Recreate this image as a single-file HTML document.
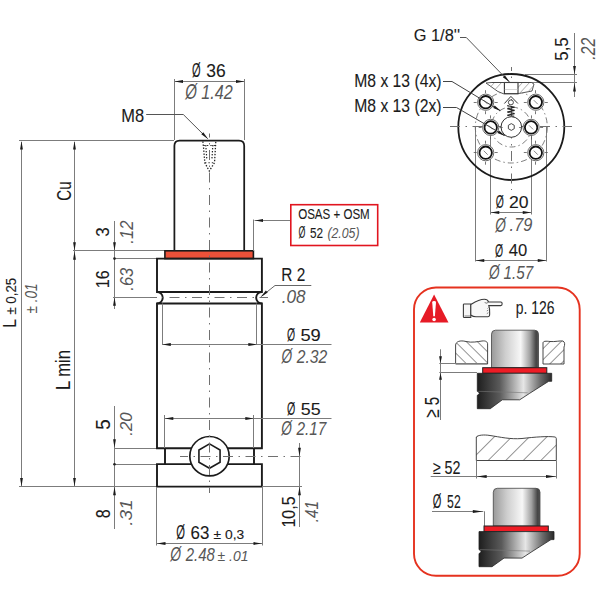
<!DOCTYPE html>
<html><head><meta charset="utf-8"><style>
html,body{margin:0;padding:0;background:#fff;width:600px;height:600px;overflow:hidden}
svg{display:block}
text{font-family:"Liberation Sans",sans-serif}
</style></head><body>
<svg width="600" height="600" viewBox="0 0 600 600">
<rect width="600" height="600" fill="#fff"/>
<line x1="19" y1="140.5" x2="174" y2="140.5" stroke="#7c7c7c" stroke-width="1" />
<line x1="21.5" y1="142" x2="21.5" y2="486" stroke="#7c7c7c" stroke-width="1" />
<polygon points="21.5,141 20.1,149.5 22.9,149.5" fill="#1b1b1b"/>
<polygon points="21.5,486.5 20.1,478 22.9,478" fill="#1b1b1b"/>
<line x1="74.5" y1="142" x2="74.5" y2="486" stroke="#7c7c7c" stroke-width="1" />
<polygon points="74.5,141 73.1,149.5 75.9,149.5" fill="#1b1b1b"/>
<polygon points="74.5,250.8 73.1,242.3 75.9,242.3" fill="#1b1b1b"/>
<polygon points="74.5,251.2 73.1,259.7 75.9,259.7" fill="#1b1b1b"/>
<polygon points="74.5,486.5 73.1,478 75.9,478" fill="#1b1b1b"/>
<line x1="73" y1="250.5" x2="165" y2="250.5" stroke="#7c7c7c" stroke-width="1" />
<line x1="19" y1="486.5" x2="157" y2="486.5" stroke="#7c7c7c" stroke-width="1" />
<line x1="114.5" y1="221" x2="114.5" y2="309" stroke="#7c7c7c" stroke-width="1" />
<polygon points="114.5,250.8 113.1,242.3 115.9,242.3" fill="#1b1b1b"/>
<polygon points="114.5,297.2 113.1,305.7 115.9,305.7" fill="#1b1b1b"/>
<line x1="114" y1="258.5" x2="157" y2="258.5" stroke="#7c7c7c" stroke-width="1" />
<line x1="113" y1="297.5" x2="152" y2="297.5" stroke="#7c7c7c" stroke-width="1" />
<line x1="114.5" y1="406" x2="114.5" y2="529" stroke="#7c7c7c" stroke-width="1" />
<polygon points="114.5,447.8 113.1,439.3 115.9,439.3" fill="#1b1b1b"/>
<polygon points="114.5,486.7 113.1,495.2 115.9,495.2" fill="#1b1b1b"/>
<line x1="114" y1="448.5" x2="157" y2="448.5" stroke="#7c7c7c" stroke-width="1" />
<line x1="114" y1="464.5" x2="157" y2="464.5" stroke="#7c7c7c" stroke-width="1" />
<circle cx="114.5" cy="258.6" r="1.3" fill="#222"/>
<circle cx="114.5" cy="464.2" r="1.3" fill="#222"/>
<line x1="174.5" y1="79" x2="174.5" y2="140" stroke="#7c7c7c" stroke-width="1" />
<line x1="244.5" y1="79" x2="244.5" y2="140" stroke="#7c7c7c" stroke-width="1" />
<line x1="174.5" y1="81.5" x2="244.5" y2="81.5" stroke="#7c7c7c" stroke-width="1" />
<polygon points="174.5,81.5 183,80.1 183,82.9" fill="#1b1b1b"/>
<polygon points="244.5,81.5 236,80.1 236,82.9" fill="#1b1b1b"/>
<path d="M146.2,114.5 H183.3 L207.5,138.5" stroke="#555" stroke-width="1" fill="none" />
<polygon points="208.3,139.2 201.3,134.18 203.28,132.2" fill="#1b1b1b"/>
<path d="M174.4,250.8 V145.7 Q174.4,140.5 179.6,140.5 H239 Q244.2,140.5 244.2,145.7 V250.8" stroke="#1b1b1b" stroke-width="1.75" fill="none" />
<path d="M202.9,141.5 L203.6,148 L204.2,155 L204.8,162.7 L209.25,171 L214.5,162.7 L215,155 L215.4,148 L215.8,141.5" stroke="#222" stroke-width="1.3" fill="none" stroke-dasharray="1.4 1.6"/>
<path d="M205.8,145 L206.3,152 L206.8,159 M212.8,145 L212.4,152 L211.9,159" stroke="#222" stroke-width="1.2" fill="none" stroke-dasharray="1.4 1.6"/>
<path d="M205,162.7 H214.5 M203.5,145.5 H215" stroke="#333" stroke-width="1.1" fill="none" stroke-dasharray="1.4 2"/>
<rect x="164.9" y="250.8" width="88.5" height="7.8" fill="#EC5139" stroke="#1b1b1b" stroke-width="1.6"/>
<path d="M157,258.6 H261.9 V292 A5.75,5.75 0 0 0 261.9,303.5 V448.2 H157 V303.5 A5.75,5.75 0 0 0 157,292 Z" stroke="#1b1b1b" stroke-width="1.9" fill="none" />
<path d="M157,292 H261.9 M157,303.5 H261.9" stroke="#1b1b1b" stroke-width="1.9" fill="none" />
<path d="M165,448.2 V464.1 M254,448.2 V464.1" stroke="#1b1b1b" stroke-width="1.9" fill="none" />
<path d="M157,464.1 H261.9 V486.6 H157 Z" stroke="#1b1b1b" stroke-width="1.9" fill="none" />
<line x1="150" y1="297.5" x2="268" y2="297.5" stroke="#707070" stroke-width="1" stroke-dasharray="10 5.5 1.5 5.5" stroke-dashoffset="3"/>
<circle cx="209.5" cy="456.2" r="19.7" fill="#fff" stroke="#1b1b1b" stroke-width="1.7"/>
<polygon points="209.5,443.9 220.07,450 220.07,462.2 209.5,468.3 198.93,462.2 198.93,450" fill="none" stroke="#1b1b1b" stroke-width="1.6"/>
<line x1="180" y1="456.5" x2="302" y2="456.5" stroke="#707070" stroke-width="1" stroke-dasharray="10 5.5 1.5 5.5" stroke-dashoffset="2"/>
<line x1="209.5" y1="133.5" x2="209.5" y2="493" stroke="#707070" stroke-width="1" stroke-dasharray="10 5.5 1.5 5.5" stroke-dashoffset="6"/>
<line x1="162.5" y1="303.5" x2="162.5" y2="345" stroke="#7c7c7c" stroke-width="1" />
<line x1="256.5" y1="303.5" x2="256.5" y2="345" stroke="#7c7c7c" stroke-width="1" />
<line x1="162.3" y1="344.5" x2="331.5" y2="344.5" stroke="#7c7c7c" stroke-width="1" />
<polygon points="162.3,344.5 170.8,343.1 170.8,345.9" fill="#1b1b1b"/>
<polygon points="256.8,344.5 248.3,343.1 248.3,345.9" fill="#1b1b1b"/>
<line x1="164.5" y1="415" x2="164.5" y2="448" stroke="#7c7c7c" stroke-width="1" />
<line x1="253.5" y1="415" x2="253.5" y2="448" stroke="#7c7c7c" stroke-width="1" />
<line x1="164.8" y1="418.5" x2="331.5" y2="418.5" stroke="#7c7c7c" stroke-width="1" />
<polygon points="164.8,418.5 173.3,417.1 173.3,419.9" fill="#1b1b1b"/>
<polygon points="253.8,418.5 245.3,417.1 245.3,419.9" fill="#1b1b1b"/>
<line x1="262" y1="486.5" x2="302" y2="486.5" stroke="#7c7c7c" stroke-width="1" />
<line x1="299.5" y1="443" x2="299.5" y2="527" stroke="#7c7c7c" stroke-width="1" />
<polygon points="299.5,456.3 298.1,447.8 300.9,447.8" fill="#1b1b1b"/>
<polygon points="299.5,486.8 298.1,495.3 300.9,495.3" fill="#1b1b1b"/>
<line x1="156.5" y1="487" x2="156.5" y2="545.5" stroke="#7c7c7c" stroke-width="1" />
<line x1="262.5" y1="487" x2="262.5" y2="545.5" stroke="#7c7c7c" stroke-width="1" />
<line x1="157" y1="543.5" x2="262" y2="543.5" stroke="#7c7c7c" stroke-width="1" />
<polygon points="157,543.5 165.5,542.1 165.5,544.9" fill="#1b1b1b"/>
<polygon points="262,543.5 253.5,542.1 253.5,544.9" fill="#1b1b1b"/>
<path d="M311.3,285.5 H275 L261.5,296.3" stroke="#666" stroke-width="1" fill="none" />
<polygon points="260.5,297.3 265.84,290.54 267.73,292.61" fill="#1b1b1b"/>
<line x1="253.5" y1="219.5" x2="253.5" y2="251" stroke="#7c7c7c" stroke-width="1" />
<line x1="254.5" y1="220.5" x2="290.5" y2="220.5" stroke="#7c7c7c" stroke-width="1" />
<polygon points="255,220.5 263,219.1 263,221.9" fill="#1b1b1b"/>
<rect x="290.8" y="204.7" width="86.9" height="40.8" fill="none" stroke="#E1151F" stroke-width="1.6"/>
<text transform="translate(192.06 77.3) scale(0.566 1)" style="font-size:19.57px;" fill="#1b1b1b" stroke="#1b1b1b" stroke-width="0.1">Ø</text>
<text transform="translate(206.3 77) scale(0.979 1)" style="font-size:17.86px;" fill="#1b1b1b" stroke="#1b1b1b" stroke-width="0.1">36</text>
<text transform="translate(185.3 99.05) scale(0.705 1)" style="font-size:21.36px;font-style:italic;" fill="#575757">Ø</text>
<text transform="translate(201.29 98.75) scale(0.823 1)" style="font-size:19.64px;font-style:italic;" fill="#575757">1.42</text>
<text transform="translate(121.18 122) scale(0.922 1)" style="font-size:17.86px;" fill="#1b1b1b" stroke="#1b1b1b" stroke-width="0.1">M8</text>
<text transform="translate(298.17 218.75) scale(0.809 1)" style="font-size:14.29px;" fill="#1b1b1b" stroke="#1b1b1b" stroke-width="0.1">OSAS + OSM</text>
<text transform="translate(298.4 237.8) scale(0.554 1)" style="font-size:16.00px;" fill="#1b1b1b" stroke="#1b1b1b" stroke-width="0.1">Ø</text>
<text transform="translate(309.88 237.5) scale(0.826 1)" style="font-size:14.29px;" fill="#1b1b1b" stroke="#1b1b1b" stroke-width="0.1">52</text>
<text transform="translate(327.38 237.5) scale(0.861 1)" style="font-size:14.29px;font-style:italic;" fill="#575757">(2.05)</text>
<text transform="translate(281.27 281.25) scale(0.862 1)" style="font-size:17.86px;" fill="#1b1b1b" stroke="#1b1b1b" stroke-width="0.1">R 2</text>
<text transform="translate(281.81 302.5) scale(0.961 1)" style="font-size:17.86px;font-style:italic;" fill="#575757">.08</text>
<text transform="translate(287.08 340.8) scale(0.563 1)" style="font-size:18.50px;" fill="#1b1b1b" stroke="#1b1b1b" stroke-width="0.1">Ø</text>
<text transform="translate(300.4 340.5) scale(1.091 1)" style="font-size:16.79px;" fill="#1b1b1b" stroke="#1b1b1b" stroke-width="0.1">59</text>
<text transform="translate(281.52 362.8) scale(0.700 1)" style="font-size:19.57px;font-style:italic;" fill="#575757">Ø</text>
<text transform="translate(296.66 362.5) scale(0.880 1)" style="font-size:17.86px;font-style:italic;" fill="#575757">2.32</text>
<text transform="translate(287.07 414.8) scale(0.564 1)" style="font-size:18.86px;" fill="#1b1b1b" stroke="#1b1b1b" stroke-width="0.1">Ø</text>
<text transform="translate(300.71 414.5) scale(1.042 1)" style="font-size:17.14px;" fill="#1b1b1b" stroke="#1b1b1b" stroke-width="0.1">55</text>
<text transform="translate(281.27 435.3) scale(0.700 1)" style="font-size:19.57px;font-style:italic;" fill="#575757">Ø</text>
<text transform="translate(296.4 435) scale(0.865 1)" style="font-size:17.86px;font-style:italic;" fill="#575757">2.17</text>
<text transform="translate(176.25 539.3) scale(0.566 1)" style="font-size:19.86px;" fill="#1b1b1b" stroke="#1b1b1b" stroke-width="0.1">Ø</text>
<text transform="translate(190.59 539) scale(0.933 1)" style="font-size:18.14px;" fill="#1b1b1b" stroke="#1b1b1b" stroke-width="0.1">63</text>
<text transform="translate(213.59 539) scale(1.041 1)" style="font-size:13.29px;" fill="#1b1b1b" stroke="#1b1b1b" stroke-width="0.1">± 0,3</text>
<text transform="translate(170.28 561.3) scale(0.700 1)" style="font-size:19.86px;font-style:italic;" fill="#575757">Ø</text>
<text transform="translate(185.64 561) scale(0.826 1)" style="font-size:18.14px;font-style:italic;" fill="#575757">2.48</text>
<text transform="translate(217.58 561) scale(0.977 1)" style="font-size:14.29px;font-style:italic;" fill="#575757">± .01</text>
<text transform="translate(70.75 200.75) rotate(-90) scale(0.716 1)" style="font-size:21.07px;" fill="#1b1b1b" stroke="#1b1b1b" stroke-width="0.1">Cu</text>
<text transform="translate(109 236.68) rotate(-90) scale(0.917 1)" style="font-size:18.57px;" fill="#1b1b1b" stroke="#1b1b1b" stroke-width="0.1">3</text>
<text transform="translate(133 243.66) rotate(-90) scale(0.891 1)" style="font-size:18.57px;font-style:italic;" fill="#575757">.12</text>
<text transform="translate(109 288.29) rotate(-90) scale(0.870 1)" style="font-size:18.57px;" fill="#1b1b1b" stroke="#1b1b1b" stroke-width="0.1">16</text>
<text transform="translate(133 290.66) rotate(-90) scale(0.884 1)" style="font-size:18.57px;font-style:italic;" fill="#575757">.63</text>
<text transform="translate(70 390.09) rotate(-90) scale(0.835 1)" style="font-size:20.00px;" fill="#1b1b1b" stroke="#1b1b1b" stroke-width="0.1">L min</text>
<text transform="translate(16.3 327.77) rotate(-90) scale(0.831 1)" style="font-size:19.14px;" fill="#1b1b1b" stroke="#1b1b1b" stroke-width="0.1">L</text>
<text transform="translate(16.3 314.7) rotate(-90) scale(0.942 1)" style="font-size:14.14px;" fill="#1b1b1b" stroke="#1b1b1b" stroke-width="0.1">± 0,25</text>
<text transform="translate(36.7 313.41) rotate(-90) scale(0.853 1)" style="font-size:15.86px;font-style:italic;" fill="#575757">± .01</text>
<text transform="translate(110 429.75) rotate(-90) scale(0.937 1)" style="font-size:20.00px;" fill="#1b1b1b" stroke="#1b1b1b" stroke-width="0.1">5</text>
<text transform="translate(132 435.67) rotate(-90) scale(1.069 1)" style="font-size:15.71px;font-style:italic;" fill="#575757">.20</text>
<text transform="translate(110 518.14) rotate(-90) scale(0.798 1)" style="font-size:20.00px;" fill="#1b1b1b" stroke="#1b1b1b" stroke-width="0.1">8</text>
<text transform="translate(132 525.76) rotate(-90) scale(1.212 1)" style="font-size:15.71px;font-style:italic;" fill="#575757">.31</text>
<text transform="translate(295 527.58) rotate(-90) scale(0.862 1)" style="font-size:18.57px;" fill="#1b1b1b" stroke="#1b1b1b" stroke-width="0.1">10,5</text>
<text transform="translate(318 522.31) rotate(-90) scale(0.821 1)" style="font-size:18.57px;font-style:italic;" fill="#575757">.41</text>
<line x1="525" y1="74.5" x2="577" y2="74.5" stroke="#7c7c7c" stroke-width="1" />
<line x1="492" y1="82.5" x2="577" y2="82.5" stroke="#7c7c7c" stroke-width="1" />
<line x1="574.5" y1="33" x2="574.5" y2="97" stroke="#7c7c7c" stroke-width="1" />
<polygon points="574.5,74.4 573.1,65.9 575.9,65.9" fill="#1b1b1b"/>
<polygon points="574.5,83 573.1,91.5 575.9,91.5" fill="#1b1b1b"/>
<text transform="translate(568 60.67) rotate(-90) scale(0.904 1)" style="font-size:18.57px;" fill="#1b1b1b" stroke="#1b1b1b" stroke-width="0.1">5,5</text>
<text transform="translate(595 59.63) rotate(-90) scale(0.789 1)" style="font-size:20.00px;font-style:italic;" fill="#575757">.22</text>
<line x1="475.5" y1="127" x2="475.5" y2="261.5" stroke="#7c7c7c" stroke-width="1" />
<line x1="546.5" y1="127" x2="546.5" y2="261.5" stroke="#7c7c7c" stroke-width="1" />
<line x1="490.5" y1="134" x2="490.5" y2="214.5" stroke="#7c7c7c" stroke-width="1" />
<line x1="531.5" y1="134" x2="531.5" y2="214.5" stroke="#7c7c7c" stroke-width="1" />
<line x1="490.75" y1="212.5" x2="531.25" y2="212.5" stroke="#7c7c7c" stroke-width="1" />
<polygon points="490.75,212.5 499.25,211.1 499.25,213.9" fill="#1b1b1b"/>
<polygon points="531.25,212.5 522.75,211.1 522.75,213.9" fill="#1b1b1b"/>
<line x1="475.75" y1="260.5" x2="546.25" y2="260.5" stroke="#7c7c7c" stroke-width="1" />
<polygon points="475.75,260.5 484.25,259.1 484.25,261.9" fill="#1b1b1b"/>
<polygon points="546.25,260.5 537.75,259.1 537.75,261.9" fill="#1b1b1b"/>
<text transform="translate(495.83 208.3) scale(0.563 1)" style="font-size:18.50px;" fill="#1b1b1b" stroke="#1b1b1b" stroke-width="0.1">Ø</text>
<text transform="translate(509 208) scale(1.048 1)" style="font-size:16.79px;" fill="#1b1b1b" stroke="#1b1b1b" stroke-width="0.1">20</text>
<text transform="translate(495.27 231.55) scale(0.700 1)" style="font-size:19.57px;font-style:italic;" fill="#575757">Ø</text>
<text transform="translate(509.6 231.25) scale(0.916 1)" style="font-size:17.86px;font-style:italic;" fill="#575757">.79</text>
<text transform="translate(495.08 256.55) scale(0.563 1)" style="font-size:18.50px;" fill="#1b1b1b" stroke="#1b1b1b" stroke-width="0.1">Ø</text>
<text transform="translate(508.8 256.25) scale(0.990 1)" style="font-size:16.79px;" fill="#1b1b1b" stroke="#1b1b1b" stroke-width="0.1">40</text>
<text transform="translate(489.02 279.05) scale(0.700 1)" style="font-size:19.57px;font-style:italic;" fill="#575757">Ø</text>
<text transform="translate(503.54 278.75) scale(0.854 1)" style="font-size:17.86px;font-style:italic;" fill="#575757">1.57</text>
<circle cx="511.3" cy="127" r="53" fill="none" stroke="#1b1b1b" stroke-width="1.8"/>
<line x1="511.5" y1="67" x2="511.5" y2="190" stroke="#707070" stroke-width="1" stroke-dasharray="10 5.5 1.5 5.5" stroke-dashoffset="6"/>
<line x1="450" y1="126.5" x2="572" y2="126.5" stroke="#707070" stroke-width="1" stroke-dasharray="10 5.5 1.5 5.5" stroke-dashoffset="0"/>
<circle cx="511.3" cy="127" r="20" fill="none" stroke="#707070" stroke-width="0.9" stroke-dasharray="6 3 1.5 3"/>
<circle cx="511.3" cy="127" r="36" fill="none" stroke="#707070" stroke-width="0.9" stroke-dasharray="6 3 1.5 3"/>
<clipPath id="portclip"><path d="M491.4,82.5 H531.5 L534,84 L532,91 L518,93.7 H503.3 L497.9,91.5 L486,83 Z"/></clipPath>
<path d="M491.4,82.5 H531.5 L534,84 L532,91 L518,93.7 H503.3 L497.9,91.5 L486,83 Z" stroke="#444" stroke-width="0.9" fill="#fff" />
<g clip-path="url(#portclip)">
<line x1="495" y1="82" x2="484" y2="94" stroke="#888" stroke-width="0.7" />
<line x1="502" y1="82" x2="491" y2="94" stroke="#888" stroke-width="0.7" />
<line x1="523" y1="82" x2="512" y2="94" stroke="#888" stroke-width="0.7" />
<line x1="530" y1="82" x2="519" y2="94" stroke="#888" stroke-width="0.7" />
<line x1="537" y1="82" x2="526" y2="94" stroke="#888" stroke-width="0.7" />
</g>
<rect x="504.4" y="82.5" width="13.6" height="11.2" fill="#fff" stroke="#333" stroke-width="1.1"/>
<line x1="491.4" y1="82.5" x2="531.5" y2="82.5" stroke="#444" stroke-width="1" />
<line x1="504.6" y1="89.5" x2="517.8" y2="89.5" stroke="#bbb" stroke-width="0.6" />
<path d="M504.4,103.5 L510.9,96.4 L517.9,103.5" stroke="#333" stroke-width="1" fill="none" />
<circle cx="510.9" cy="102.4" r="2.5" fill="#fff" stroke="#333" stroke-width="0.9"/>
<path d="M507.2,105.6 L514.6,107.2 L507.2,108.8 L514.6,110.4 L507.2,112 L514.6,113.6 L507.2,115.2 L514.2,116.3" stroke="#222" stroke-width="1.1" fill="none" />
<circle cx="511.3" cy="127" r="10.3" fill="#fff" stroke="#333" stroke-width="1"/>
<polygon points="511.3,123.6 514.24,125.3 514.24,128.7 511.3,130.4 508.36,128.7 508.36,125.3" fill="none" stroke="#333" stroke-width="0.9"/>
<circle cx="485.7" cy="102.2" r="8.1" fill="#fff" stroke="#444" stroke-width="0.8"/>
<circle cx="485.7" cy="102.2" r="6.2" fill="#fff" stroke="#111" stroke-width="1.8"/>
<line x1="485.5" y1="93.2" x2="485.5" y2="90.2" stroke="#555" stroke-width="0.8" />
<line x1="485.5" y1="111.2" x2="485.5" y2="114.2" stroke="#555" stroke-width="0.8" />
<line x1="476.7" y1="102.5" x2="473.7" y2="102.5" stroke="#555" stroke-width="0.8" />
<line x1="494.7" y1="102.5" x2="497.7" y2="102.5" stroke="#555" stroke-width="0.8" />
<line x1="483.7" y1="100.2" x2="487.7" y2="104.2" stroke="#555" stroke-width="0.7" />
<circle cx="535.8" cy="102.2" r="8.1" fill="#fff" stroke="#444" stroke-width="0.8"/>
<circle cx="535.8" cy="102.2" r="6.2" fill="#fff" stroke="#111" stroke-width="1.8"/>
<line x1="535.5" y1="93.2" x2="535.5" y2="90.2" stroke="#555" stroke-width="0.8" />
<line x1="535.5" y1="111.2" x2="535.5" y2="114.2" stroke="#555" stroke-width="0.8" />
<line x1="526.8" y1="102.5" x2="523.8" y2="102.5" stroke="#555" stroke-width="0.8" />
<line x1="544.8" y1="102.5" x2="547.8" y2="102.5" stroke="#555" stroke-width="0.8" />
<line x1="533.8" y1="100.2" x2="537.8" y2="104.2" stroke="#555" stroke-width="0.7" />
<circle cx="490.7" cy="127.4" r="8.1" fill="#fff" stroke="#444" stroke-width="0.8"/>
<circle cx="490.7" cy="127.4" r="6.2" fill="#fff" stroke="#111" stroke-width="1.8"/>
<line x1="490.5" y1="118.4" x2="490.5" y2="115.4" stroke="#555" stroke-width="0.8" />
<line x1="490.5" y1="136.4" x2="490.5" y2="139.4" stroke="#555" stroke-width="0.8" />
<line x1="481.7" y1="127.5" x2="478.7" y2="127.5" stroke="#555" stroke-width="0.8" />
<line x1="499.7" y1="127.5" x2="502.7" y2="127.5" stroke="#555" stroke-width="0.8" />
<line x1="488.7" y1="125.4" x2="492.7" y2="129.4" stroke="#555" stroke-width="0.7" />
<circle cx="531.1" cy="127.4" r="8.1" fill="#fff" stroke="#444" stroke-width="0.8"/>
<circle cx="531.1" cy="127.4" r="6.2" fill="#fff" stroke="#111" stroke-width="1.8"/>
<line x1="531.5" y1="118.4" x2="531.5" y2="115.4" stroke="#555" stroke-width="0.8" />
<line x1="531.5" y1="136.4" x2="531.5" y2="139.4" stroke="#555" stroke-width="0.8" />
<line x1="522.1" y1="127.5" x2="519.1" y2="127.5" stroke="#555" stroke-width="0.8" />
<line x1="540.1" y1="127.5" x2="543.1" y2="127.5" stroke="#555" stroke-width="0.8" />
<line x1="529.1" y1="125.4" x2="533.1" y2="129.4" stroke="#555" stroke-width="0.7" />
<circle cx="485.7" cy="152.7" r="8.1" fill="#fff" stroke="#444" stroke-width="0.8"/>
<circle cx="485.7" cy="152.7" r="6.2" fill="#fff" stroke="#111" stroke-width="1.8"/>
<line x1="485.5" y1="143.7" x2="485.5" y2="140.7" stroke="#555" stroke-width="0.8" />
<line x1="485.5" y1="161.7" x2="485.5" y2="164.7" stroke="#555" stroke-width="0.8" />
<line x1="476.7" y1="152.5" x2="473.7" y2="152.5" stroke="#555" stroke-width="0.8" />
<line x1="494.7" y1="152.5" x2="497.7" y2="152.5" stroke="#555" stroke-width="0.8" />
<line x1="483.7" y1="150.7" x2="487.7" y2="154.7" stroke="#555" stroke-width="0.7" />
<circle cx="535.8" cy="152.7" r="8.1" fill="#fff" stroke="#444" stroke-width="0.8"/>
<circle cx="535.8" cy="152.7" r="6.2" fill="#fff" stroke="#111" stroke-width="1.8"/>
<line x1="535.5" y1="143.7" x2="535.5" y2="140.7" stroke="#555" stroke-width="0.8" />
<line x1="535.5" y1="161.7" x2="535.5" y2="164.7" stroke="#555" stroke-width="0.8" />
<line x1="526.8" y1="152.5" x2="523.8" y2="152.5" stroke="#555" stroke-width="0.8" />
<line x1="544.8" y1="152.5" x2="547.8" y2="152.5" stroke="#555" stroke-width="0.8" />
<line x1="533.8" y1="150.7" x2="537.8" y2="154.7" stroke="#555" stroke-width="0.7" />
<path d="M460,37.5 H466.3 L509.2,81.8" stroke="#555" stroke-width="1" fill="none" />
<polygon points="509.8,82.3 502.87,77.18 504.88,75.23" fill="#1b1b1b"/>
<path d="M443,81.5 H452 L500,110.5" stroke="#444" stroke-width="1" fill="none" />
<polygon points="501.2,111.2 493.23,107.94 494.69,105.56" fill="#1b1b1b"/>
<path d="M443,107.5 H456.5 L504.5,135.5" stroke="#444" stroke-width="1" fill="none" />
<polygon points="505.5,136.2 497.51,132.99 498.96,130.6" fill="#1b1b1b"/>
<text transform="translate(413.68 41.25) scale(0.977 1)" style="font-size:16.79px;" fill="#1b1b1b" stroke="#1b1b1b" stroke-width="0.1">G 1/8''</text>
<text transform="translate(354.24 87) scale(0.830 1)" style="font-size:18.93px;" fill="#1b1b1b" stroke="#1b1b1b" stroke-width="0.1">M8 x 13 (4x)</text>
<text transform="translate(354.24 112) scale(0.830 1)" style="font-size:18.93px;" fill="#1b1b1b" stroke="#1b1b1b" stroke-width="0.1">M8 x 13 (2x)</text>
<rect x="414" y="287.5" width="165.7" height="288.3" rx="22" ry="22" fill="none" stroke="#E5321F" stroke-width="1.9"/>
<polygon points="434.1,294.6 448.5,322.4 419.8,322.4" fill="#E61B26"/>
<path d="M432.2,302.2 Q432.2,300.9 434.1,300.9 Q436,300.9 436,302.2 L434.9,316.2 H433.3 Z" fill="#fff"/>
<circle cx="434.1" cy="319.5" r="1.8" fill="#fff"/>
<defs><linearGradient id="hg" x1="0" y1="0" x2="0" y2="1"><stop offset="0" stop-color="#f4f4f4"/><stop offset="1" stop-color="#bdbdbd"/></linearGradient><linearGradient id="rod" x1="0" y1="0" x2="1" y2="0"><stop offset="0" stop-color="#9a9a9a"/><stop offset="0.3" stop-color="#cfcfcf"/><stop offset="0.62" stop-color="#f7f7f7"/><stop offset="0.82" stop-color="#a0a0a0"/><stop offset="0.95" stop-color="#444"/><stop offset="1" stop-color="#555"/></linearGradient><linearGradient id="body" x1="0" y1="0" x2="1" y2="0"><stop offset="0" stop-color="#1e1e1e"/><stop offset="0.3" stop-color="#5a5a5a"/><stop offset="0.62" stop-color="#e6e6e6"/><stop offset="0.85" stop-color="#6a6a6a"/><stop offset="1" stop-color="#2a2a2a"/></linearGradient><pattern id="hatchL" patternUnits="userSpaceOnUse" width="7.8" height="8" patternTransform="translate(458 345) rotate(-45)"><line x1="0" y1="0" x2="0" y2="8" stroke="#2a2a2a" stroke-width="1"/></pattern><pattern id="hatchR" patternUnits="userSpaceOnUse" width="7.8" height="8" patternTransform="translate(546 345) rotate(45)"><line x1="0" y1="0" x2="0" y2="8" stroke="#2a2a2a" stroke-width="1"/></pattern><pattern id="hatchP" patternUnits="userSpaceOnUse" width="12.4" height="12" patternTransform="translate(487.5 460.5) rotate(45)"><line x1="0" y1="0" x2="0" y2="12" stroke="#2a2a2a" stroke-width="1"/></pattern></defs>
<path d="M463.4,304.6 Q463.4,304 464.2,304 H470.8 V317.5 H464.2 Q463.4,317.5 463.4,316.7 Z" stroke="#3a3a3a" stroke-width="1.1" fill="#f6f6f6" />
<path d="M470.8,304.5 C474,302.5 479,299.2 484.4,299.2 C486.5,299.2 488,300.3 488.6,302 H500.8 C502.6,302 502.6,305.6 500.8,305.6 H488.8 C489.2,307 489.8,309.5 489.6,311 C489.6,313.5 490.2,316.8 488,316.8 H476 C473.5,316.8 472,316 470.8,315 Z" stroke="#3a3a3a" stroke-width="1.1" fill="#f8f8f8" />
<path d="M488.2,302.2 C486.8,303.6 485.3,303.4 484.8,302.2" stroke="#555" stroke-width="0.8" fill="none" />
<path d="M487.5,308.5 L488.5,307.5 M486.8,311 L488.3,310 M486.8,313.7 L488.3,312.7 M464.5,316 H470" stroke="#666" stroke-width="0.8" fill="none" />
<text transform="translate(515.66 313.8) scale(0.741 1)" style="font-size:18.86px;" fill="#1b1b1b" stroke="#1b1b1b" stroke-width="0.1">p. 126</text>
<path d="M491.5,367.7 V334.2 Q491.5,330.2 495.5,330.2 H534.5 Q538.5,330.2 538.5,334.2 V367.7 Z" fill="url(#rod)" stroke="#444" stroke-width="0.8"/>
<rect x="482.7" y="367.7" width="64.09999999999997" height="5.600000000000023" fill="#EE1C25" stroke="#222" stroke-width="1"/>
<path d="M477.3,373.3 H551.7 V381.3 H548.7 L529.7,393.3 L519.7,399.8 H502.3 L490.3,408.7 H477.3 V395.3 Q479.3,394.3 479.3,393.3 Q479.3,392.3 477.3,391.3 Z" fill="url(#body)" stroke="#222" stroke-width="0.8"/>
<line x1="478.3" y1="391.3" x2="527.7" y2="392.8" stroke="#777" stroke-width="0.6" />
<path d="M455.6,364 V345 C456,341.5 460,340 466,341.5 C472,343 478,341.5 482,341 C486,340.5 487.6,342 487.6,344 V364 Z" stroke="#333" stroke-width="0.9" fill="url(#hatchL)" />
<path d="M543,364 V343 C543,341 546,341 550,341.5 C555,342 560,340.5 563,341 C565,342 565,345 564,347 V364 Z" stroke="#333" stroke-width="0.9" fill="url(#hatchR)" />
<line x1="439.3" y1="363.5" x2="487" y2="363.5" stroke="#7c7c7c" stroke-width="1" />
<line x1="439.3" y1="372.5" x2="477" y2="372.5" stroke="#7c7c7c" stroke-width="1" />
<line x1="440.5" y1="349.3" x2="440.5" y2="420" stroke="#7c7c7c" stroke-width="1" />
<polygon points="440.5,363.3 439.1,356.3 441.9,356.3" fill="#1b1b1b"/>
<polygon points="440.5,372.8 439.1,379.8 441.9,379.8" fill="#1b1b1b"/>
<text transform="translate(439.3 417.75) rotate(-90) scale(0.726 1)" style="font-size:20.86px;" fill="#1b1b1b" stroke="#1b1b1b" stroke-width="0.1">≥ 5</text>
<path d="M476.3,460.5 V437 C478,435 484,434.5 490,435.5 C500,437 510,439.5 522,438.5 C535,437 548,436 555,437 C556.3,437.5 556.3,438 556.3,439 V460.5 Z" stroke="#333" stroke-width="0.9" fill="url(#hatchP)" />
<line x1="476.5" y1="460.7" x2="476.5" y2="478.5" stroke="#7c7c7c" stroke-width="1" />
<line x1="556.5" y1="460.7" x2="556.5" y2="478.5" stroke="#7c7c7c" stroke-width="1" />
<line x1="430.7" y1="476.5" x2="556" y2="476.5" stroke="#7c7c7c" stroke-width="1" />
<polygon points="476.7,476.5 486.7,474.9 486.7,478.1" fill="#1b1b1b"/>
<polygon points="556,476.5 546,474.9 546,478.1" fill="#1b1b1b"/>
<text transform="translate(432.67 473.5) scale(0.776 1)" style="font-size:18.43px;" fill="#1b1b1b" stroke="#1b1b1b" stroke-width="0.1">≥ 52</text>
<text transform="translate(432.66 508.1) scale(0.566 1)" style="font-size:19.57px;" fill="#1b1b1b" stroke="#1b1b1b" stroke-width="0.1">Ø</text>
<text transform="translate(447.11 507.8) scale(0.685 1)" style="font-size:17.86px;" fill="#1b1b1b" stroke="#1b1b1b" stroke-width="0.1">52</text>
<line x1="432" y1="511.5" x2="483.3" y2="511.5" stroke="#7c7c7c" stroke-width="1" />
<polygon points="482.8,511.5 472.8,509.9 472.8,513.1" fill="#1b1b1b"/>
<line x1="484.5" y1="511.3" x2="484.5" y2="526" stroke="#7c7c7c" stroke-width="1" />
<path d="M493.3,526 V492.3 Q493.3,488.3 497.3,488.3 H536 Q540,488.3 540,492.3 V526 Z" fill="url(#rod)" stroke="#444" stroke-width="0.8"/>
<rect x="484" y="526" width="64.29999999999995" height="5.600000000000023" fill="#EE1C25" stroke="#222" stroke-width="1"/>
<path d="M479,531.6 H554 V539.6 H551 L532,551.6 L522,558.1 H504 L492,566.7 H479 V553.6 Q481,552.6 481,551.6 Q481,550.6 479,549.6 Z" fill="url(#body)" stroke="#222" stroke-width="0.8"/>
<line x1="480" y1="549.6" x2="530" y2="551.1" stroke="#777" stroke-width="0.6" />
</svg></body></html>
